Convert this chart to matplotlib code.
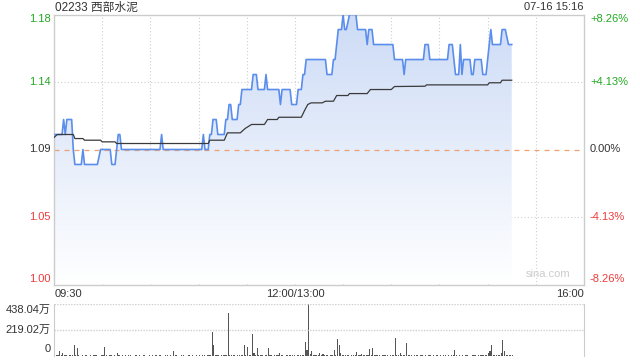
import numpy as np
import matplotlib
matplotlib.use("Agg")
import matplotlib.pyplot as plt
import matplotlib.transforms as mtransforms
from matplotlib.colors import LinearSegmentedColormap
from matplotlib.patches import Polygon

# CJK fallback for the stock name and the 万 unit
plt.rcParams['font.family'] = ['Liberation Sans', 'Noto Sans CJK SC']

title = "02233 西部水泥"
stamp = "07-16 15:16"
prev_close = 1.09
pct_range = 8.26
price_labels = ["1.18", "1.14", "1.09", "1.05", "1.00"]
pct_labels = ["+8.26%", "+4.13%", "0.00%", "-4.13%", "-8.26%"]
time_labels = ["09:30", "12:00/13:00", "16:00"]
session_minutes = 330  # 09:30-12:00 + 13:00-16:00

# last price, vertices as (trading minute, price)
price_min = [0, 5, 6, 7, 8, 11, 12, 13, 17, 18, 19, 27, 29, 35, 36, 38, 39, 40, 41, 42,
             66, 67, 68, 92, 93, 94, 96, 97, 98, 99, 101, 102, 106, 107, 108, 109, 110, 111, 114, 115,
             116, 117, 123, 124, 126, 127, 131, 132, 133, 140, 141, 142, 147, 148, 151, 152, 154, 155, 156, 157,
             169, 170, 173, 174, 175, 176, 177, 179, 180, 181, 182, 184, 188, 189, 194, 195, 196, 198, 199, 211,
             212, 217, 218, 219, 230, 231, 233, 234, 245, 246, 248, 250, 252, 253, 254, 255, 259, 260, 261, 262,
             266, 267, 269, 270, 272, 273, 278, 279, 281, 283, 285]
price_val = [1.10, 1.10, 1.11, 1.10, 1.11, 1.11, 1.09, 1.08, 1.08, 1.09, 1.08, 1.08, 1.09, 1.09, 1.08, 1.08, 1.09, 1.10, 1.10, 1.09,
             1.09, 1.10, 1.09, 1.09, 1.10, 1.09, 1.09, 1.10, 1.10, 1.11, 1.11, 1.10, 1.10, 1.11, 1.11, 1.12, 1.12, 1.11, 1.11, 1.12,
             1.12, 1.13, 1.13, 1.14, 1.14, 1.13, 1.13, 1.14, 1.13, 1.13, 1.12, 1.13, 1.13, 1.12, 1.12, 1.13, 1.13, 1.14, 1.14, 1.15,
             1.15, 1.14, 1.14, 1.15, 1.15, 1.16, 1.17, 1.17, 1.18, 1.17, 1.17, 1.18, 1.18, 1.17, 1.17, 1.16, 1.17, 1.17, 1.16, 1.16,
             1.15, 1.15, 1.14, 1.15, 1.15, 1.16, 1.16, 1.15, 1.15, 1.16, 1.16, 1.14, 1.14, 1.16, 1.14, 1.15, 1.15, 1.14, 1.14, 1.15,
             1.15, 1.14, 1.14, 1.15, 1.17, 1.16, 1.16, 1.17, 1.17, 1.16, 1.16]

# average price line
avg_min = [0, 2, 12, 13, 18, 19, 29, 30, 38, 39, 96, 97, 106, 108, 116, 119, 123, 131, 133, 139,
           140, 154, 156, 158, 160, 167, 169, 174, 176, 183, 184, 195, 197, 210, 212, 231, 232, 270, 271, 278,
           279, 285]
avg_val = [1.098, 1.100, 1.100, 1.0973, 1.0973, 1.0962, 1.0962, 1.0951, 1.0951, 1.094, 1.094, 1.0962, 1.0962, 1.1011, 1.1011, 1.104, 1.1067, 1.1067, 1.110, 1.110,
           1.1115, 1.1115, 1.116, 1.120, 1.1211, 1.1211, 1.1222, 1.1222, 1.126, 1.126, 1.1273, 1.1273, 1.130, 1.130, 1.132, 1.1322, 1.1331, 1.1331, 1.1345, 1.1345,
           1.1362, 1.1362]

# volume per minute, in 万股
volume = [12, 8, 5, 42, 10, 28, 6, 9, 4, 7, 5, 8, 95, 6, 70, 5, 4, 7, 3, 6,
          5, 4, 8, 3, 6, 5, 7, 4, 3, 6, 5, 78, 8, 4, 6, 5, 3, 7, 4, 25,
          6, 4, 5, 3, 7, 4, 5, 6, 3, 4, 8, 5, 4, 6, 3, 5, 7, 4, 3, 6,
          4, 5, 3, 6, 4, 5, 7, 3, 4, 6, 5, 3, 8, 4, 42, 6, 5, 4, 3, 5,
          6, 4, 3, 5, 7, 4, 5, 3, 6, 4, 5, 3, 7, 6, 4, 5, 8, 6, 205, 95,
          8, 5, 6, 4, 7, 5, 9, 6, 363, 10, 6, 5, 8, 4, 6, 7, 5, 9, 95, 8,
          78, 6, 10, 185, 28, 8, 68, 6, 5, 9, 4, 6, 7, 65, 5, 8, 4, 6, 5, 7,
          23, 5, 8, 4, 6, 5, 7, 9, 5, 6, 4, 8, 10, 6, 7, 12, 120, 50, 438.04, 15,
          42, 8, 6, 5, 9, 23, 6, 20, 5, 8, 7, 4, 10, 6, 50, 12, 146, 93, 28, 8,
          6, 9, 5, 7, 4, 8, 6, 5, 36, 7, 9, 20, 6, 5, 8, 6, 62, 7, 70, 9,
          5, 7, 6, 4, 8, 5, 6, 7, 4, 6, 5, 9, 154, 6, 8, 28, 5, 7, 6, 112,
          8, 6, 5, 4, 7, 5, 6, 4, 8, 5, 3, 6, 4, 7, 5, 3, 6, 4, 5, 3,
          6, 4, 7, 5, 3, 6, 4, 5, 8, 50, 6, 4, 5, 3, 7, 4, 6, 5, 3, 4,
          6, 5, 7, 4, 8, 5, 6, 9, 7, 12, 28, 42, 93, 10, 6, 5, 8, 7, 23, 135,
          42, 8, 6, 5, 9, 7]
vol_labels = ["438.04万", "219.02万", "0"]
vol_max = 438.04

GREEN = '#22a822'
RED = '#f03a3a'
DARK = '#333333'
GRID = '#cfcfcf'

fig = plt.figure(figsize=(6.4, 3.6), dpi=100)
ax = fig.add_axes([54 / 640, 75.5 / 360, 530 / 640, 270 / 360])
axv = fig.add_axes([54 / 640, 4 / 360, 530 / 640, 52 / 360])

ylo = prev_close * (1 - pct_range / 100)
yhi = prev_close * (1 + pct_range / 100)
levels = [prev_close * (1 + p / 100) for p in (pct_range, pct_range / 2, 0, -pct_range / 2, -pct_range)]

# gradient fill under the price line
fade = LinearSegmentedColormap.from_list('fade', ['#ffffff', '#ccdbf6'])
grad = np.linspace(1, 0, 256).reshape(-1, 1)
im = ax.imshow(grad, cmap=fade, aspect='auto', origin='upper',
               extent=[0, price_min[-1], ylo, yhi], zorder=1)
verts = [(price_min[0], ylo)] + list(zip(price_min, price_val)) + [(price_min[-1], ylo)]
clip = Polygon(verts, closed=True, transform=ax.transData, facecolor='none', edgecolor='none')
ax.add_patch(clip)
im.set_clip_path(clip)

# grid
for lv in (levels[1], levels[3]):
    ax.axhline(lv, color=GRID, lw=0.8, ls=(0, (1, 2)), zorder=0.5)
for m in range(30, session_minutes, 30):
    ax.axvline(m, color=GRID, lw=0.8, ls=(0, (1, 2)), zorder=0.5)
ax.axhline(prev_close, color='#f0a070', lw=0.9, ls=(0, (4, 4)), zorder=2)

ax.plot(price_min, price_val, color='#5b8eec', lw=1.2, zorder=3)
ax.plot(avg_min, avg_val, color='#3a3a3a', lw=0.9, zorder=4)

ax.set_xlim(0, session_minutes)
ax.set_ylim(ylo, yhi)
ax.set_xticks([])
ax.set_yticks([])
for sp in ax.spines.values():
    sp.set_color('#cccccc')
    sp.set_linewidth(1)

# price labels left, percent labels right
lab_colors = [GREEN, GREEN, DARK, RED, RED]
blend = mtransforms.blended_transform_factory(ax.transAxes, ax.transData)
for i, (lv, pl, cl, col) in enumerate(zip(levels, price_labels, pct_labels, lab_colors)):
    va = 'top' if i == 0 else ('bottom' if i == len(levels) - 1 else 'center')
    ax.text(-3 / 530, lv, pl, transform=blend, ha='right', va=va, fontsize=8, color=col)
    ax.text(1 + 6 / 530, lv, cl, transform=blend, ha='left', va=va, fontsize=8, color=col)

# time labels
ax.text(0.002, -0.018, time_labels[0], transform=ax.transAxes, ha='left', va='top', fontsize=8, color=DARK)
ax.text(150 / session_minutes, -0.018, time_labels[1], transform=ax.transAxes, ha='center', va='top', fontsize=8, color=DARK)
ax.text(1.0, -0.018, time_labels[2], transform=ax.transAxes, ha='right', va='top', fontsize=8, color=DARK)

ax.text(0.975, 0.02, "sina.com", transform=ax.transAxes, ha='right', va='bottom', fontsize=8, color='#cccccc')

fig.text(55 / 640, 1 - 7.5 / 360, title, ha='left', va='center', fontsize=8.5, color=DARK)
fig.text(584 / 640, 1 - 7.5 / 360, stamp, ha='right', va='center', fontsize=8, color=DARK)

# volume pane
axv.bar(np.arange(len(volume)) + 0.5, volume, width=0.7, color='#555555')
axv.set_xlim(0, session_minutes)
axv.set_ylim(0, vol_max)
axv.set_xticks([])
axv.set_yticks([])
axv.axhline(vol_max, color=GRID, lw=1, ls=(0, (1, 1)))
axv.axhline(vol_max / 2, color=GRID, lw=1, ls=(0, (1, 1)))
for side in ('top', 'bottom'):
    axv.spines[side].set_visible(False)
for side in ('left', 'right'):
    axv.spines[side].set_color('#cccccc')

vblend = mtransforms.blended_transform_factory(axv.transAxes, axv.transData)
axv.text(-3 / 530, vol_max * 0.985, vol_labels[0], transform=vblend, ha='right', va='top', fontsize=8, color=DARK)
axv.text(-3 / 530, vol_max / 2, vol_labels[1], transform=vblend, ha='right', va='center', fontsize=8, color=DARK)
axv.text(-3 / 530, vol_max * 0.04, vol_labels[2], transform=vblend, ha='right', va='bottom', fontsize=8, color=DARK)

fig.savefig("out.png", dpi=100)
